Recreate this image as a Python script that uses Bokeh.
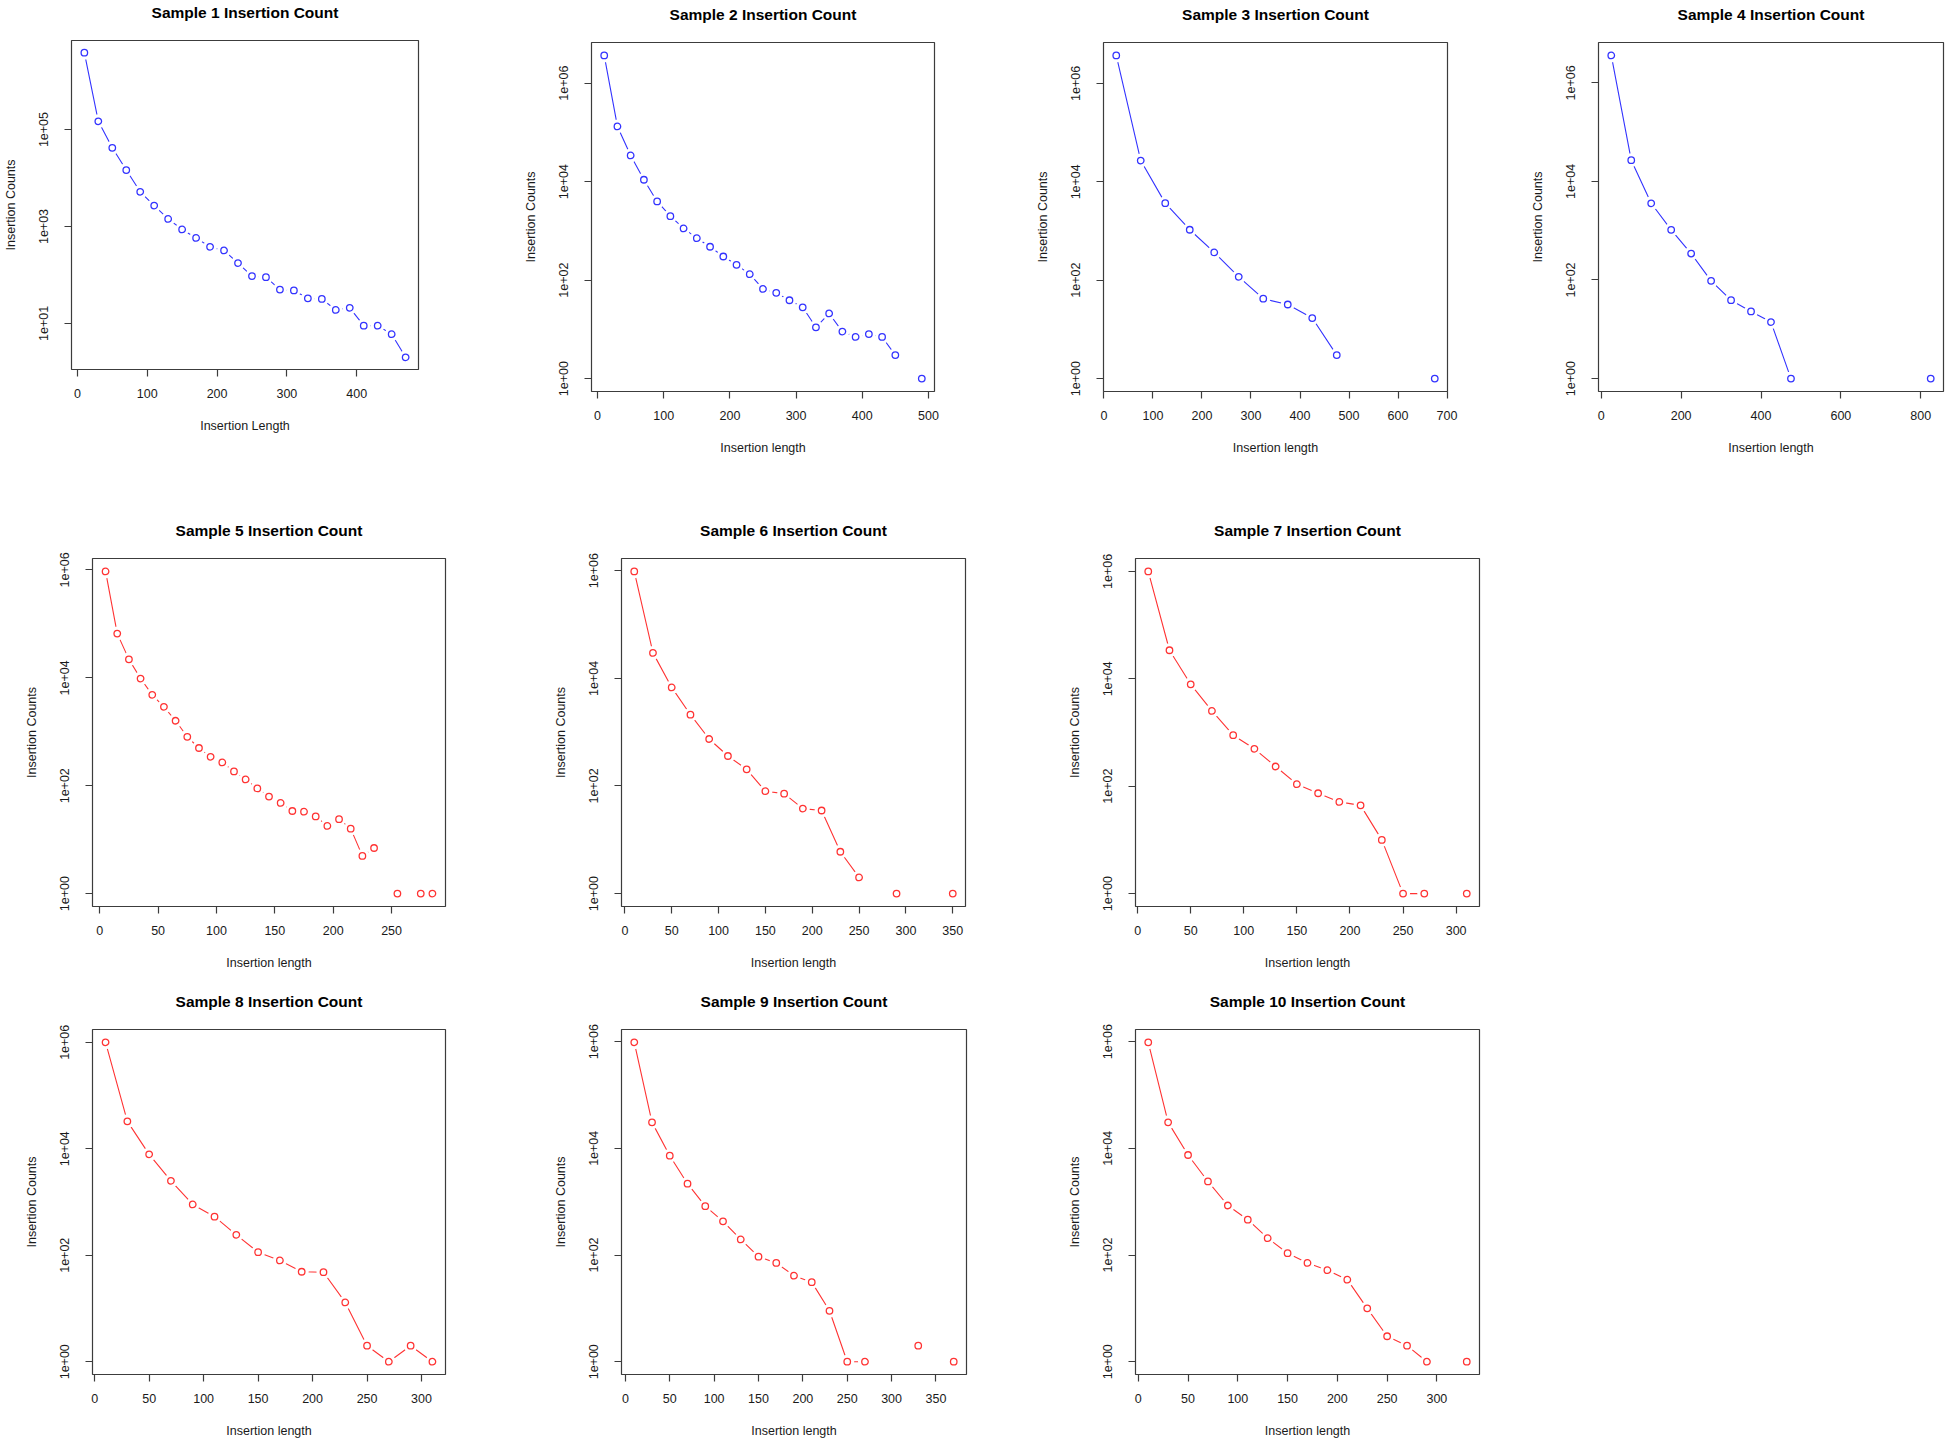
import math
from bokeh.plotting import figure
from bokeh.layouts import column, row
from bokeh.models import Range1d, FixedTicker, CustomJSTickFormatter, ColumnDataSource, LinearAxis
from bokeh.embed import file_html
from bokeh.resources import INLINE

# ---------------- data ----------------
titles = ["Sample %d Insertion Count" % i for i in range(1, 11)]
x_labels = ["Insertion Length"] + ["Insertion length"] * 9
y_label = "Insertion Counts"
colors = ["#3333ff"] * 4 + ["#ff3333"] * 6

# 0 = no insertions of that length (nothing drawn, line broken)
s1_len = [10, 30, 50, 70, 90, 110, 130, 150, 170, 190, 210, 230, 250, 270, 290, 310, 330, 350, 370, 390, 410, 430, 450, 470]
s1_cnt = [3.85e6, 1.48e5, 4.2e4, 1.46e4, 5200, 2700, 1430, 870, 580, 380, 320, 176, 95, 90, 50, 48, 33, 32, 19, 21, 9, 9, 6, 2]

s2_len = [10, 30, 50, 70, 90, 110, 130, 150, 170, 190, 210, 230, 250, 270, 290, 310, 330, 350, 370, 390, 410, 430, 450, 470, 490]
s2_cnt = [3.65e6, 1.32e5, 3.4e4, 1.09e4, 3950, 1990, 1120, 710, 475, 301, 204, 132, 66, 55, 39, 28, 11, 21, 9, 7, 8, 7, 3, 0, 1]

s3_len = [25, 75, 125, 175, 225, 275, 325, 375, 425, 475, 525, 575, 625, 675]
s3_cnt = [3.7e6, 2.7e4, 3680, 1060, 366, 117, 42, 32, 17, 3, 0, 0, 0, 1]

s4_len = [25, 75, 125, 175, 225, 275, 325, 375, 425, 475, 525, 575, 625, 675, 725, 775, 825]
s4_cnt = [3.6e6, 2.7e4, 3600, 1040, 344, 96, 39, 23, 14, 1, 0, 0, 0, 0, 0, 0, 1]

s5_len = [5, 15, 25, 35, 45, 55, 65, 75, 85, 95, 105, 115, 125, 135, 145, 155, 165, 175, 185, 195, 205, 215, 225, 235, 245, 255, 265, 275, 285]
s5_cnt = [9.4e5, 6.6e4, 2.2e4, 9700, 4840, 2900, 1600, 807, 500, 344, 270, 184, 131, 89, 63, 48, 34, 33, 27, 18, 24, 16, 5, 7, 0, 1, 0, 1, 1]

s6_len = [10, 30, 50, 70, 90, 110, 130, 150, 170, 190, 210, 230, 250, 270, 290, 310, 330, 350]
s6_cnt = [9.7e5, 2.97e4, 6780, 2110, 746, 360, 204, 80, 72, 38, 35, 6, 2, 0, 1, 0, 0, 1]

s7_len = [10, 30, 50, 70, 90, 110, 130, 150, 170, 190, 210, 230, 250, 270, 290, 310]
s7_cnt = [1.0e6, 3.4e4, 7900, 2520, 890, 497, 233, 109, 74, 51, 44, 10, 1, 1, 0, 1]

s8_len = [10, 30, 50, 70, 90, 110, 130, 150, 170, 190, 210, 230, 250, 270, 290, 310]
s8_cnt = [1.0e6, 3.27e4, 7850, 2500, 900, 530, 242, 114, 80, 49, 48, 13, 2, 1, 2, 1]

s9_len = [10, 30, 50, 70, 90, 110, 130, 150, 170, 190, 210, 230, 250, 270, 290, 310, 330, 350, 370]
s9_cnt = [9.7e5, 3.06e4, 7270, 2170, 824, 428, 196, 93, 71, 41, 31, 9, 1, 1, 0, 0, 2, 0, 1]

s10_len = [10, 30, 50, 70, 90, 110, 130, 150, 170, 190, 210, 230, 250, 270, 290, 310, 330]
s10_cnt = [9.7e5, 3.06e4, 7480, 2390, 847, 459, 207, 108, 71, 52, 34.5, 10, 3, 2, 1, 0, 1]

x_ticks = [
    [0, 100, 200, 300, 400],
    [0, 100, 200, 300, 400, 500],
    [0, 100, 200, 300, 400, 500, 600, 700],
    [0, 200, 400, 600, 800],
    [0, 50, 100, 150, 200, 250],
    [0, 50, 100, 150, 200, 250, 300, 350],
    [0, 50, 100, 150, 200, 250, 300],
    [0, 50, 100, 150, 200, 250, 300],
    [0, 50, 100, 150, 200, 250, 300, 350],
    [0, 50, 100, 150, 200, 250, 300],
]
y_ticks_odd = [10, 1000, 100000]
y_tick_labels_odd = ["1e+01", "1e+03", "1e+05"]
y_ticks_even = [1, 100, 10000, 1000000]
y_tick_labels_even = ["1e+00", "1e+02", "1e+04", "1e+06"]

lengths = [s1_len, s2_len, s3_len, s4_len, s5_len, s6_len, s7_len, s8_len, s9_len, s10_len]
counts = [s1_cnt, s2_cnt, s3_cnt, s4_cnt, s5_cnt, s6_cnt, s7_cnt, s8_cnt, s9_cnt, s10_cnt]

# ---------------- geometry (layout) ----------------
# (border left, frame width, border right, border top, frame height, border bottom)
geom = [
    (61, 357, 102, 38, 331, 149),
    (62, 352, 98, 42, 349, 127),
    (62, 353, 80, 42, 349, 127),
    (62, 354, 3, 42, 349, 127),
    (92, 353, 105, 40, 348, 83),
    (62, 353, 99, 40, 348, 83),
    (62, 353, 20, 40, 348, 83),
    (92, 353, 105, 40, 349, 62),
    (62, 354, 98, 40, 349, 62),
    (62, 353, 20, 40, 349, 62),
]
TITLE_STANDOFF = 20

FONT = "Liberation Sans"
TXT = "#1a1a1a"
EDGE = "#3c3c3c"


def make_panel(i):
    xs = lengths[i]
    ys = counts[i]
    L, FW, R, T, FH, B = geom[i]
    px = [x for x, y in zip(xs, ys) if y > 0]
    py = [y for y in ys if y > 0]
    xmin, xmax = min(px), max(px)
    dx = (xmax - xmin) * 0.04
    lmin, lmax = math.log10(min(py)), math.log10(max(py))
    dl = (lmax - lmin) * 0.04

    p = figure(width=L + FW + R, height=T + FH + B, y_axis_type="log",
               x_range=Range1d(xmin - dx, xmax + dx),
               y_range=Range1d(10 ** (lmin - dl), 10 ** (lmax + dl)),
               toolbar_location=None, output_backend="svg",
               min_border_left=L, min_border_right=R,
               min_border_top=T, min_border_bottom=B,
               background_fill_color="white", border_fill_color="white")
    p.frame_align = False
    p.grid.visible = False
    p.outline_line_color = EDGE
    p.outline_line_width = 1.2

    xax = p.below[0]
    yax = p.left[0]
    for ax in (xax, yax):
        ax.axis_line_color = None
        ax.major_tick_out = 7
        ax.major_tick_in = 0
        ax.major_tick_line_color = EDGE
        ax.major_tick_line_width = 1.2
        ax.minor_tick_line_color = None
        ax.major_label_text_font = FONT
        ax.major_label_text_font_size = "12.5px"
        ax.major_label_text_color = TXT
        ax.axis_label_text_font = FONT
        ax.axis_label_text_font_size = "12.5px"
        ax.axis_label_text_font_style = "normal"
        ax.axis_label_text_color = TXT

    xax.ticker = FixedTicker(ticks=x_ticks[i])
    xax.axis_label = x_labels[i]
    xax.major_label_standoff = 12
    xax.axis_label_standoff = 18

    if i == 0:
        yt, yl = y_ticks_odd, y_tick_labels_odd
    else:
        yt, yl = y_ticks_even, y_tick_labels_even
    yax.ticker = FixedTicker(ticks=yt)
    yax.formatter = CustomJSTickFormatter(args=dict(t=yt, l=yl), code="""
        for (let k = 0; k < t.length; k++) {
            if (Math.abs(t[k] - tick) <= 1e-6 * t[k]) { return l[k]; }
        }
        return '';
    """)
    yax.major_label_orientation = "vertical"
    yax.axis_label = y_label
    yax.major_label_standoff = 16
    yax.axis_label_standoff = 19

    # panel title, centred over the plot box
    title_axis = LinearAxis(axis_label=titles[i], ticker=FixedTicker(ticks=[]),
                            axis_line_color=None, major_tick_line_color=None,
                            minor_tick_line_color=None, major_tick_out=0, major_tick_in=0,
                            major_label_standoff=0, major_label_text_font_size="0px",
                            axis_label_standoff=TITLE_STANDOFF,
                            axis_label_text_font=FONT, axis_label_text_font_size="15.5px",
                            axis_label_text_font_style="bold", axis_label_text_color="black")
    p.add_layout(title_axis, "above")

    col = colors[i]
    line_y = [y if y > 0 else float("nan") for y in ys]
    p.line(xs, line_y, line_color=col, line_width=1.1)
    src = ColumnDataSource(dict(x=px, y=py))
    # white halo leaves the gap around each point (R type = "b")
    p.scatter("x", "y", source=src, size=14, marker="circle",
              fill_color="white", line_color=None)
    p.scatter("x", "y", source=src, size=6.5, marker="circle",
              fill_color=None, line_color=col, line_width=1.3)
    return p


figs = [make_panel(i) for i in range(10)]
layout = column(row(figs[0:4]), row(figs[4:7]), row(figs[7:10]))

open("out.html", "w").write(file_html(layout, INLINE))
